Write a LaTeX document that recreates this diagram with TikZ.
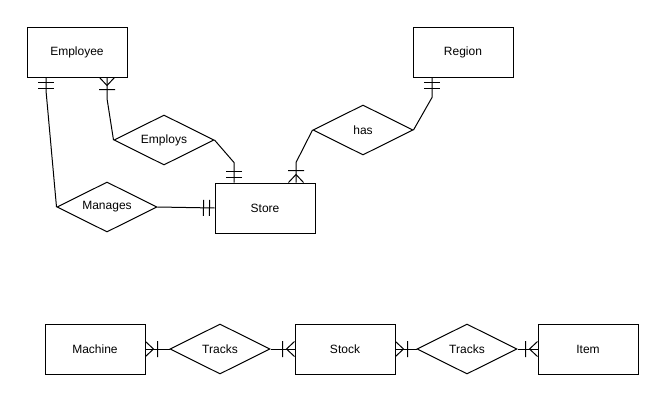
\documentclass[tikz,border=0pt]{standalone}
\usepackage{fontspec}
\setmainfont{Liberation Sans}
\usepackage{tikz}
\usetikzlibrary{arrows.meta,
                positioning,
                shapes.geometric}

% crow's foot ends
\pgfdeclarearrow{
  name = ER one,
  setup code = {
    \pgfarrowssettipend{0pt}
    \pgfarrowssetlineend{0pt}
    \pgfarrowssetbackend{-12pt}
    \pgfarrowshullpoint{-12pt}{8pt}
    \pgfarrowshullpoint{-12pt}{-8pt}
  },
  drawing code = {
    \pgfpathmoveto{\pgfqpoint{-5pt}{8pt}}
    \pgfpathlineto{\pgfqpoint{-5pt}{-8pt}}
    \pgfpathmoveto{\pgfqpoint{-11pt}{8pt}}
    \pgfpathlineto{\pgfqpoint{-11pt}{-8pt}}
    \pgfusepathqstroke
  }
}
\pgfdeclarearrow{
  name = ER many,
  setup code = {
    \pgfarrowssettipend{0pt}
    \pgfarrowssetlineend{0pt}
    \pgfarrowssetbackend{-12pt}
    \pgfarrowshullpoint{-12pt}{8pt}
    \pgfarrowshullpoint{-12pt}{-8pt}
  },
  drawing code = {
    \pgfpathmoveto{\pgfqpoint{0pt}{7.5pt}}
    \pgfpathlineto{\pgfqpoint{-8pt}{0pt}}
    \pgfpathlineto{\pgfqpoint{0pt}{-7.5pt}}
    \pgfpathmoveto{\pgfqpoint{-12pt}{8pt}}
    \pgfpathlineto{\pgfqpoint{-12pt}{-8pt}}
    \pgfusepathqstroke
  }
}

\tikzstyle{entity} = [draw, line width=1pt, minimum width=100pt, minimum height=50pt, inner sep=0pt]
\tikzstyle{relation} = [draw, diamond, aspect=2, line width=1pt, minimum width=100pt, minimum height=50pt, inner sep=0pt]
\tikzstyle{oneone} = [line width=1pt, -{ER one}]
\tikzstyle{onemany} = [line width=1pt, -{ER many}]

\begin{document}
\begin{tikzpicture}[x=1pt, y=-1pt, font=\fontsize{12}{14}\selectfont]
        \useasboundingbox[fill=white] (0,0) rectangle (665,402);

        \node[entity] (emp) at (77,52) {Employee};
        \node[entity] (reg)[right= 285pt of emp] {Region};
        \node[entity] (store) at (265,208) {Store};
        \node[relation] (employs) at (164,140) {Employs};
        \node[relation] (manages) at (107,207) {Manages};
        \node[relation] (has) at (363,130) {has};

        \node[entity] (machine) at (95,349) {Machine};
        \node[relation] (tracks1)[right= 24pt of machine] {Tracks};
        \node[entity] (stock)[right= 24pt of tracks1] {Stock};
        \node[relation] (tracks2)[right= 21pt of stock] {Tracks};
        \node[entity] (item)[right= 20pt of tracks2] {Item};

        \draw[oneone] (manages.west) -- ([shift={(-31,13)}]emp.south) -- ([xshift=-31pt]emp.south);
        \draw[onemany] (employs.west) -- ([shift={(30,21)}]emp.south) -- ([xshift=30pt]emp.south);
        \draw[oneone] (employs.east) -- ([shift={(-31,-20)}]store.north) -- ([xshift=-31pt]store.north);
        \draw[oneone] (manages.east) -- (store.west);
        \draw[onemany] (has.west) -- ([shift={(31,-20)}]store.north) -- ([xshift=31pt]store.north);
        \draw[oneone] (has.east) -- ([shift={(-31,20)}]reg.south) -- ([xshift=-31pt]reg.south);

        \draw[onemany] (tracks1.west) -- (machine.east);
        \draw[onemany] (tracks1.east) -- (stock.west);
        \draw[onemany] (tracks2.west) -- (stock.east);
        \draw[onemany] (tracks2.east) -- (item.west);
    \end{tikzpicture}
\end{document}
